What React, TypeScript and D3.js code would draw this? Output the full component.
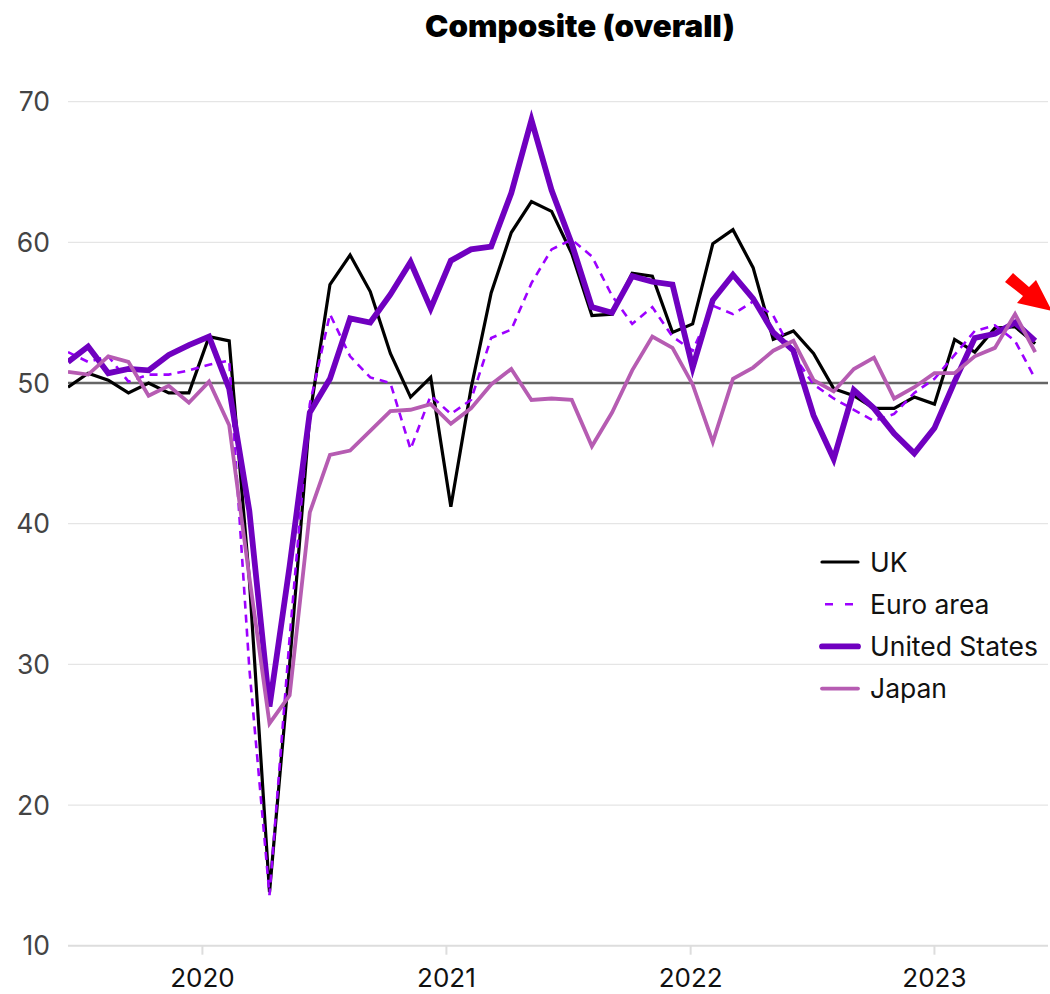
import React from "react";
import * as d3 from "d3";

// monthly readings, Jun 2019 .. Jun 2023
const months = d3.timeMonth.range(new Date(2019, 5, 1), new Date(2023, 6, 1));

const uk = [
  49.7, 50.7, 50.2, 49.3, 50.0, 49.3, 49.3,
  53.3, 53.0, 36.0, 13.8, 30.0, 47.7, 57.0, 59.1, 56.5, 52.1, 49.0, 50.4,
  41.2, 49.6, 56.4, 60.7, 62.9, 62.2, 59.2, 54.8, 54.9, 57.8, 57.6, 53.6,
  54.2, 59.9, 60.9, 58.2, 53.1, 53.7, 52.1, 49.6, 49.1, 48.2, 48.2, 49.0,
  48.5, 53.1, 52.2, 53.9, 54.0, 52.8,
];

const euro = [
  52.2, 51.5, 51.9, 50.1, 50.6, 50.6, 50.9,
  51.3, 51.6, 29.7, 13.6, 31.9, 48.5, 54.9, 51.9, 50.4, 50.0, 45.3, 49.1,
  47.8, 48.8, 53.2, 53.8, 57.1, 59.5, 60.2, 59.0, 56.2, 54.2, 55.4, 53.3,
  52.3, 55.5, 54.9, 55.8, 54.8, 52.0, 49.9, 48.9, 48.1, 47.3, 47.8, 49.3,
  50.3, 52.0, 53.7, 54.1, 53.0, 50.3,
];

const us = [
  51.5, 52.6, 50.7, 51.0, 50.9, 52.0, 52.7,
  53.3, 49.6, 40.9, 27.0, 37.0, 47.9, 50.3, 54.6, 54.3, 56.3, 58.6, 55.3,
  58.7, 59.5, 59.7, 63.5, 68.7, 63.7, 59.9, 55.4, 55.0, 57.6, 57.2, 57.0,
  51.1, 55.9, 57.7, 56.0, 53.6, 52.3, 47.7, 44.6, 49.5, 48.2, 46.4, 45.0,
  46.8, 50.1, 53.2, 53.5, 54.3, 53.0,
];

const japan = [
  50.8, 50.6, 51.9, 51.5, 49.1, 49.8, 48.6,
  50.1, 47.0, 36.2, 25.8, 27.8, 40.8, 44.9, 45.2, 46.6, 48.0, 48.1, 48.5,
  47.1, 48.2, 49.9, 51.0, 48.8, 48.9, 48.8, 45.5, 47.9, 50.9, 53.3, 52.5,
  49.9, 45.8, 50.3, 51.1, 52.3, 53.0, 50.2, 49.4, 51.0, 51.8, 48.9, 49.7,
  50.7, 50.7, 51.9, 52.5, 54.9, 52.2,
];

const yTicks = [10, 20, 30, 40, 50, 60, 70];
// year ticks sit just before the January reading
const xTickLabels = ["2020", "2021", "2022", "2023"];
const xTickPos = [6.67, 18.78, 30.9, 43.0];

const series = [
  { name: "UK", values: uk, color: "#000000", width: 3.2, dash: "none" },
  { name: "Euro area", values: euro, color: "#9d00ff", width: 2.6, dash: "8,6" },
  { name: "United States", values: us, color: "#7000c0", width: 5.8, dash: "none" },
  { name: "Japan", values: japan, color: "#b65cb2", width: 3.8, dash: "none" },
];

export default function App() {
  const W = 1050;
  const H = 994;
  const left = 68;
  const right = 1048;
  const top = 101.7;
  const bottom = 945.7;

  const x = d3.scaleLinear().domain([0, months.length - 1]).range([left, 1035.2]);
  const y = d3.scaleLinear().domain([10, 70]).range([bottom, top]);

  const line = d3
    .line<number>()
    .x((d, i) => x(i))
    .y((d) => y(d));

  const font = "Inter, 'DejaVu Sans', sans-serif";

  return (
    <div style={{ position: "absolute", left: 0, top: 0 }}>
      <svg width={W} height={H} style={{ display: "block", fontFamily: font }}>
        <defs>
          <clipPath id="plot">
            <rect x={left} y={0} width={right - left} height={H} />
          </clipPath>
        </defs>

        {/* TITLE */}
        <text
          x={580}
          y={37}
          textAnchor="middle"
          fontSize={30}
          fontWeight={900}
          fill="#000"
          textLength={310}
          lengthAdjust="spacingAndGlyphs"
        >
          Composite (overall)
        </text>

        {/* GRID */}
        {yTicks
          .filter((t) => t !== 10 && t !== 50)
          .map((t) => (
            <line key={t} x1={left} x2={right} y1={y(t)} y2={y(t)} stroke="#e5e5e5" strokeWidth={1.2} />
          ))}

        {/* Y LABELS */}
        {yTicks.map((t) => (
          <text key={t} x={50} y={y(t)} dy="0.36em" textAnchor="end" fontSize={26.5} fill="#444">
            {t}
          </text>
        ))}

        {/* X AXIS */}
        <line x1={left} x2={right} y1={bottom} y2={bottom} stroke="#dddddd" strokeWidth={2} />
        {xTickPos.map((p, i) => (
          <g key={xTickLabels[i]}>
            <line x1={x(p)} x2={x(p)} y1={bottom} y2={bottom + 9} stroke="#dddddd" strokeWidth={2} />
            <text x={x(p)} y={987} textAnchor="middle" fontSize={26} fill="#111">
              {xTickLabels[i]}
            </text>
          </g>
        ))}

        {/* 50 REFERENCE */}
        <line x1={left} x2={right} y1={y(50)} y2={y(50)} stroke="#666666" strokeWidth={2.4} />

        {/* LINES */}
        <g clipPath="url(#plot)">
          {series.map((s) => (
            <path
              key={s.name}
              d={line(s.values) || ""}
              fill="none"
              stroke={s.color}
              strokeWidth={s.width}
              strokeDasharray={s.dash}
            />
          ))}
        </g>

        {/* LEGEND */}
        {series.map((s, i) => (
          <g key={s.name} transform={`translate(822,${562 + i * 42.2})`}>
            <line
              x1={0}
              x2={36}
              y1={0}
              y2={0}
              stroke={s.color}
              strokeWidth={s.width}
              strokeDasharray={s.dash === "none" ? "none" : "8,12"}
              strokeDashoffset={s.dash === "none" ? 0 : -3}
              strokeLinecap={s.dash === "none" ? "round" : "butt"}
            />
            <text x={48} y={0} dy="0.36em" fontSize={26.5} fill="#111">
              {s.name}
            </text>
          </g>
        ))}

        {/* RED ARROW */}
        <path
          d="M1005,282 L1013,273 L1029,287 L1036,280 L1052,311 L1017,303 L1023,296 Z"
          fill="#ff0000"
        />
      </svg>
    </div>
  );
}
